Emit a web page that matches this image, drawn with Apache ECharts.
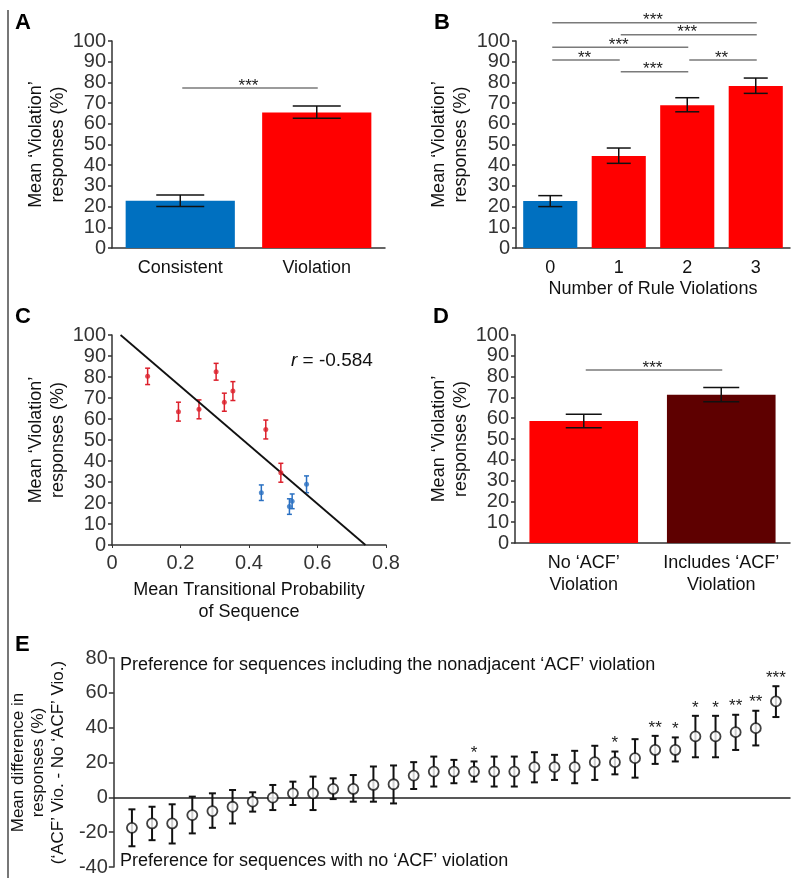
<!DOCTYPE html>
<html>
<head>
<meta charset="utf-8">
<script src="https://cdn.jsdelivr.net/npm/echarts@6/dist/echarts.min.js"></script>
<style>html,body{margin:0;padding:0;background:#fff}#c{width:800px;height:884px}</style>
</head>
<body>
<div id="c"></div>
<script>
// ---------- DATA ----------
const catsA = ['Consistent', 'Violation'];
const valsA = [22.8, 65.4];
const lowA = [20.0, 62.7];
const highA = [25.6, 68.6];
const sigA = [[0, 1, 77.3, '***']];

const catsB = ['0', '1', '2', '3'];
const valsB = [22.7, 44.4, 69.0, 78.3];
const lowB = [20.0, 40.9, 65.8, 74.7];
const highB = [25.3, 48.3, 72.6, 82.1];
const sigB = [[0, 3, 108.8, '***'], [1, 3, 103.0, '***'], [0, 2, 97.0, '***'], [0, 1, 90.8, '**'], [2, 3, 90.8, '**'], [1, 2, 85.2, '***']];

const redX = [0.104, 0.194, 0.254, 0.304, 0.328, 0.353, 0.449, 0.493];
const redY = [80.3, 63.5, 64.6, 82.5, 68.0, 73.3, 55.0, 34.4];
const redErr = [3.9, 4.5, 4.5, 4.0, 4.3, 4.5, 4.5, 4.5];
const blueX = [0.436, 0.518, 0.526, 0.568];
const blueY = [24.9, 18.3, 20.8, 28.9];
const blueErr = [3.7, 3.7, 3.5, 4.0];
const regLine = [[0.025, 100], [0.74, 0]];
const rText = '-0.584';

const catsD = ['No \u2018ACF\u2019\nViolation', 'Includes \u2018ACF\u2019\nViolation'];
const valsD = [58.7, 71.3];
const lowD = [55.4, 67.9];
const highD = [61.9, 74.7];
const sigD = [[0, 1, 83.2, '***']];

const meansE = [-17.5, -15.0, -15.0, -10.2, -7.9, -5.4, -2.5, -0.2, 2.3, 2.3, 4.8, 4.8, 7.1, 7.5, 12.5, 14.8, 14.8, 14.8, 14.8, 14.8, 17.3, 17.3, 17.3, 20.2, 20.2, 22.5, 27.2, 27.2, 35.0, 35.0, 37.4, 39.7, 55.1];
const lowE = [-28.1, -24.6, -26.5, -20.7, -17.5, -15.0, -8.2, -7.3, -4.4, -7.3, -1.0, -2.5, -2.5, -3.5, 4.8, 6.2, 8.1, 9.0, 6.2, 6.2, 8.6, 10.0, 8.1, 10.0, 13.2, 11.3, 19.2, 20.6, 23.0, 23.0, 27.2, 29.8, 46.1];
const highE = [-6.9, -5.4, -4.0, 0.4, 2.3, 4.2, 2.9, 7.1, 9.0, 11.9, 10.9, 12.8, 17.7, 18.3, 20.2, 23.4, 21.5, 20.6, 23.4, 23.4, 25.9, 24.4, 26.7, 29.6, 26.3, 33.4, 35.3, 34.4, 46.8, 46.8, 47.4, 49.7, 63.8];
const starsE = ['', '', '', '', '', '', '', '', '', '', '', '', '', '', '', '', '', '*', '', '', '', '', '', '', '*', '', '**', '*', '*', '*', '**', '**', '***'];

// ---------- STYLE ----------
const FONT = 'Liberation Sans, Arial, Helvetica, sans-serif';
const AX = '#333';
const TXT = '#333';
const BLUE = '#0070c0', RED = '#ff0000', DARK = '#5e0000';
const PRED = '#dc1f2b', PBLUE = '#2a70c2';

function errRender(capHalf, color, lw, stars) {
  return function (params, api) {
    const x = api.value(0), lo = api.value(1), hi = api.value(2);
    const p1 = api.coord([x, lo]), p2 = api.coord([x, hi]);
    const st = { stroke: color, lineWidth: lw };
    const ch = [
      { type: 'line', shape: { x1: p1[0], y1: p1[1], x2: p2[0], y2: p2[1] }, style: st },
      { type: 'line', shape: { x1: p1[0] - capHalf, y1: p1[1], x2: p1[0] + capHalf, y2: p1[1] }, style: st },
      { type: 'line', shape: { x1: p2[0] - capHalf, y1: p2[1], x2: p2[0] + capHalf, y2: p2[1] }, style: st }
    ];
    if (stars && stars[params.dataIndex]) {
      ch.push({ type: 'text', x: p2[0], y: p2[1] - 8, style: { text: stars[params.dataIndex], fill: '#222', font: '17px ' + FONT, textAlign: 'center', textVerticalAlign: 'middle' } });
    }
    return { type: 'group', children: ch };
  };
}
function sigRender(sig) {
  return function (params, api) {
    const s = sig[params.dataIndex];
    const a = api.coord([s[0], s[2]]), b = api.coord([s[1], s[2]]);
    return { type: 'group', children: [
      { type: 'line', shape: { x1: a[0] + 2, y1: a[1], x2: b[0] + 1, y2: b[1] }, style: { stroke: '#7a7a7a', lineWidth: 1.5 } },
      { type: 'text', x: (a[0] + b[0]) / 2, y: a[1] - 2, style: { text: s[3], fill: '#222', font: '17px ' + FONT, textAlign: 'center', textVerticalAlign: 'middle' } }
    ] };
  };
}
function yAx(gi, name, gap) {
  return {
    gridIndex: gi, type: 'value', min: 0, max: 100, interval: 10,
    name: name, nameLocation: 'middle', nameGap: gap, nameRotate: 90,
    nameTextStyle: { fontFamily: FONT, fontSize: 18, color: '#111', lineHeight: 22 },
    axisLine: { show: true, lineStyle: { color: AX, width: 1.5 } },
    axisTick: { show: true, length: 4, lineStyle: { color: AX, width: 1.5 } },
    axisLabel: { fontFamily: FONT, fontSize: 20, color: TXT, margin: 6 },
    splitLine: { show: false }
  };
}
function catAx(gi, data, extra) {
  return Object.assign({
    gridIndex: gi, type: 'category', data: data,
    axisLine: { lineStyle: { color: AX, width: 1.5 } },
    axisTick: { show: false },
    axisLabel: { fontFamily: FONT, fontSize: 18, color: '#111', margin: 9, lineHeight: 22, interval: 0 },
    splitLine: { show: false }
  }, extra || {});
}
const yName2 = 'Mean \u2018Violation\u2019\nresponses (%)';

const option = {
  animation: false,
  backgroundColor: '#fff',
  grid: [
    { left: 112, right: 415, top: 41, bottom: 636 },
    { left: 516, right: 10, top: 41, bottom: 636 },
    { left: 112, right: 414, top: 335, bottom: 339 },
    { left: 515, right: 10, top: 335, bottom: 341 },
    { left: 110, right: 10, top: 658, bottom: 17 }
  ],
  xAxis: [
    catAx(0, catsA),
    catAx(1, catsB, { name: 'Number of Rule Violations', nameLocation: 'middle', nameGap: 30, nameTextStyle: { fontFamily: FONT, fontSize: 18, color: '#111' } }),
    {
      gridIndex: 2, type: 'value', min: 0, max: 0.8, interval: 0.2,
      name: 'Mean Transitional Probability\nof Sequence', nameLocation: 'middle', nameGap: 34,
      nameTextStyle: { fontFamily: FONT, fontSize: 18, color: '#111', lineHeight: 22 },
      axisLine: { onZero: false, lineStyle: { color: AX, width: 1.5 } },
      axisTick: { show: true, length: 3, lineStyle: { color: AX } },
      axisLabel: { fontFamily: FONT, fontSize: 20, color: TXT, margin: 8 },
      splitLine: { show: false }
    },
    catAx(3, catsD),
    {
      gridIndex: 4, type: 'value', min: 0.1, max: 33.7,
      axisLine: { onZero: true, lineStyle: { color: '#222', width: 1.5 } },
      axisTick: { show: false }, axisLabel: { show: false }, splitLine: { show: false }
    }
  ],
  yAxis: [
    yAx(0, yName2, 43),
    yAx(1, yName2, 44),
    yAx(2, yName2, 43),
    yAx(3, yName2, 43),
    {
      gridIndex: 4, type: 'value', min: -40, max: 80, interval: 20,
      name: 'Mean difference in\nresponses (%)\n(\u2018ACF\u2019 Vio. - No \u2018ACF\u2019 Vio.)',
      nameLocation: 'middle', nameGap: 37, nameRotate: 90,
      nameTextStyle: { fontFamily: FONT, fontSize: 17, color: '#111', lineHeight: 20 },
      axisLine: { show: true, onZero: false, lineStyle: { color: AX, width: 1.5 } },
      axisTick: { show: true, length: 5, lineStyle: { color: AX, width: 1.5 } },
      axisLabel: { fontFamily: FONT, fontSize: 20, color: TXT, margin: 6 },
      splitLine: { show: false }
    }
  ],
  series: [
    // A
    { type: 'bar', xAxisIndex: 0, yAxisIndex: 0, barCategoryGap: '20%',
      data: valsA.map((v, i) => ({ value: v, itemStyle: { color: i === 0 ? BLUE : RED } })) },
    { type: 'custom', xAxisIndex: 0, yAxisIndex: 0, renderItem: errRender(24, '#111', 1.5), z: 5,
      data: valsA.map((v, i) => [i, lowA[i], highA[i]]), encode: { x: 0, y: [1, 2] } },
    { type: 'custom', xAxisIndex: 0, yAxisIndex: 0, renderItem: sigRender(sigA), clip: false,
      data: sigA.map(s => [s[0], s[2]]), encode: { x: 0, y: 1 } },
    // B
    { type: 'bar', xAxisIndex: 1, yAxisIndex: 1, barCategoryGap: '21%',
      data: valsB.map((v, i) => ({ value: v, itemStyle: { color: i === 0 ? BLUE : RED } })) },
    { type: 'custom', xAxisIndex: 1, yAxisIndex: 1, renderItem: errRender(12, '#111', 1.5), z: 5,
      data: valsB.map((v, i) => [i, lowB[i], highB[i]]), encode: { x: 0, y: [1, 2] } },
    { type: 'custom', xAxisIndex: 1, yAxisIndex: 1, renderItem: sigRender(sigB), clip: false,
      data: sigB.map(s => [s[0], s[2]]), encode: { x: 0, y: 1 } },
    // C
    { type: 'line', xAxisIndex: 2, yAxisIndex: 2, data: regLine, symbol: 'none',
      lineStyle: { color: '#111', width: 1.8 } },
    { type: 'custom', xAxisIndex: 2, yAxisIndex: 2, renderItem: errRender(2.5, PRED, 1.5),
      data: redX.map((x, i) => [x, redY[i] - redErr[i], redY[i] + redErr[i]]), encode: { x: 0, y: [1, 2] } },
    { type: 'custom', xAxisIndex: 2, yAxisIndex: 2, renderItem: errRender(2.5, PBLUE, 1.5),
      data: blueX.map((x, i) => [x, blueY[i] - blueErr[i], blueY[i] + blueErr[i]]), encode: { x: 0, y: [1, 2] } },
    { type: 'scatter', xAxisIndex: 2, yAxisIndex: 2, symbolSize: 5, itemStyle: { color: PRED }, z: 6,
      data: redX.map((x, i) => [x, redY[i]]) },
    { type: 'scatter', xAxisIndex: 2, yAxisIndex: 2, symbolSize: 5, itemStyle: { color: PBLUE }, z: 6,
      data: blueX.map((x, i) => [x, blueY[i]]) },
    // D
    { type: 'bar', xAxisIndex: 3, yAxisIndex: 3, barCategoryGap: '21%',
      data: valsD.map((v, i) => ({ value: v, itemStyle: { color: i === 0 ? RED : DARK } })) },
    { type: 'custom', xAxisIndex: 3, yAxisIndex: 3, renderItem: errRender(18, '#111', 1.5), z: 5,
      data: valsD.map((v, i) => [i, lowD[i], highD[i]]), encode: { x: 0, y: [1, 2] } },
    { type: 'custom', xAxisIndex: 3, yAxisIndex: 3, renderItem: sigRender(sigD), clip: false,
      data: sigD.map(s => [s[0], s[2]]), encode: { x: 0, y: 1 } },
    // E
    { type: 'custom', xAxisIndex: 4, yAxisIndex: 4, renderItem: errRender(3.5, '#111', 2, starsE), z: 4, clip: false,
      data: meansE.map((m, i) => [i + 1, lowE[i], highE[i]]), encode: { x: 0, y: [1, 2] } },
    { type: 'scatter', xAxisIndex: 4, yAxisIndex: 4, symbol: 'circle', symbolSize: 10, z: 6,
      itemStyle: { color: '#fff', borderColor: '#111', borderWidth: 1.8 },
      data: meansE.map((m, i) => [i + 1, m]) }
  ],
  graphic: [
    { type: 'line', shape: { x1: 8, y1: 10, x2: 8, y2: 878 }, style: { stroke: '#777', lineWidth: 2 } },
    { type: 'text', left: 15, top: 12, style: { text: 'A', font: 'bold 22px ' + FONT, fill: '#000' } },
    { type: 'text', left: 434, top: 12, style: { text: 'B', font: 'bold 22px ' + FONT, fill: '#000' } },
    { type: 'text', left: 15, top: 306, style: { text: 'C', font: 'bold 22px ' + FONT, fill: '#000' } },
    { type: 'text', left: 433, top: 306, style: { text: 'D', font: 'bold 22px ' + FONT, fill: '#000' } },
    { type: 'text', left: 15, top: 634, style: { text: 'E', font: 'bold 22px ' + FONT, fill: '#000' } },
    { type: 'text', left: 291, top: 351, style: {
      text: '{i|r} = ' + rText,
      rich: { i: { fontStyle: 'italic', fontFamily: FONT, fontSize: 19, fill: '#111' } },
      font: '19px ' + FONT, fill: '#111' } },
    { type: 'text', left: 120, top: 656, style: { text: 'Preference for sequences including the nonadjacent \u2018ACF\u2019 violation', font: '18px ' + FONT, fill: '#111' } },
    { type: 'text', left: 120, top: 852, style: { text: 'Preference for sequences with no \u2018ACF\u2019 violation', font: '18px ' + FONT, fill: '#111' } }
  ]
};
const chart = echarts.init(document.getElementById('c'), null, { renderer: 'canvas' });
chart.setOption(option);
</script>
</body>
</html>
